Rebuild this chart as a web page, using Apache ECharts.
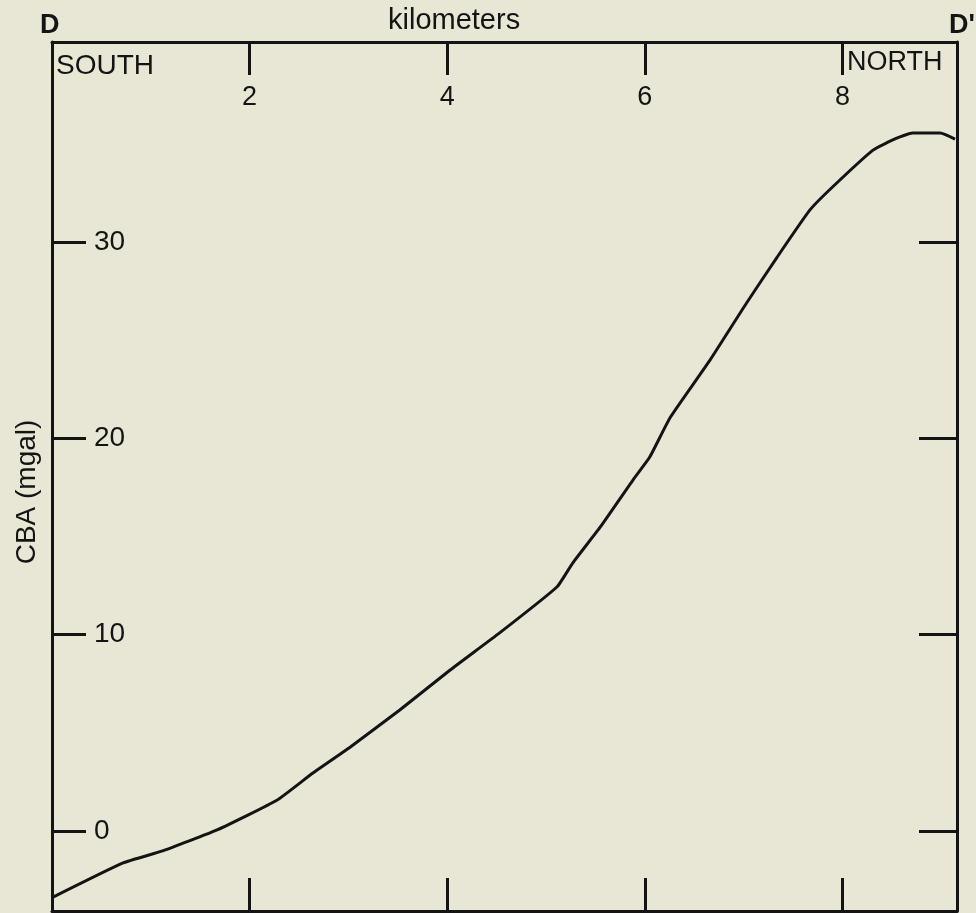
<!DOCTYPE html>
<html>
<head>
<meta charset="utf-8">
<title>CBA profile D-D'</title>
<script src="https://cdn.jsdelivr.net/npm/echarts@6/dist/echarts.min.js"></script>
<style>
  html, body { margin: 0; padding: 0; background: #e8e7d5; }
  #chart { width: 976px; height: 913px; }
</style>
</head>
<body>
<div id="chart"></div>
<script>
// distance along profile (km)
const distKm = [0, 0.72, 1.12, 1.67, 2.28, 2.64, 3.02, 3.52, 4.03, 4.53, 5.11, 5.27, 5.55, 5.88, 6.05, 6.26, 6.66, 7.03, 7.34, 7.67, 7.90, 8.31, 8.55, 8.71, 8.99, 9.14];
// complete Bouguer anomaly (mgal)
const cba = [-3.4, -1.63, -1.02, 0.05, 1.58, 2.95, 4.28, 6.16, 8.20, 10.09, 12.43, 13.65, 15.49, 17.88, 19.05, 21.09, 23.99, 26.90, 29.24, 31.63, 32.81, 34.69, 35.3, 35.56, 35.56, 35.25];
// tick labels
const kmTicks = [2, 4, 6, 8];
const mgalTicks = [0, 10, 20, 30];

const ink = '#141414';
const font = 'Liberation Sans';

const xBase = {
    type: 'value',
    min: 0,
    max: 9.16,
    splitLine: { show: false },
    axisLine: { onZero: false, lineStyle: { color: ink, width: 3 } }
};
const yBase = {
    type: 'value',
    min: -4.08,
    max: 40.2,
    splitLine: { show: false },
    axisLine: { onZero: false, lineStyle: { color: ink, width: 3 } }
};

const chart = echarts.init(document.getElementById('chart'));
chart.setOption({
    backgroundColor: '#e8e7d5',
    animation: false,
    grid: { left: 52, right: 19, top: 42, bottom: 2 },
    xAxis: [
        Object.assign({}, xBase, {
            position: 'top',
            axisTick: { inside: true, length: 33, customValues: kmTicks, lineStyle: { color: ink, width: 3 } },
            axisLabel: { inside: true, margin: 42, customValues: kmTicks, color: ink, fontSize: 27, fontFamily: font }
        }),
        Object.assign({}, xBase, {
            position: 'bottom',
            axisTick: { inside: true, length: 33, customValues: kmTicks, lineStyle: { color: ink, width: 3 } },
            axisLabel: { show: false }
        })
    ],
    yAxis: [
        Object.assign({}, yBase, {
            position: 'left',
            axisTick: { inside: true, length: 34, customValues: mgalTicks, lineStyle: { color: ink, width: 3 } },
            axisLabel: { inside: true, margin: 42, customValues: mgalTicks, color: ink, fontSize: 28, fontFamily: font }
        }),
        Object.assign({}, yBase, {
            position: 'right',
            axisTick: { inside: true, length: 38, customValues: mgalTicks, lineStyle: { color: ink, width: 3 } },
            axisLabel: { show: false }
        })
    ],
    graphic: [
        { type: 'text', left: 40, top: 12, style: { text: 'D', font: 'bold 27px ' + font, fill: ink } },
        { type: 'text', left: 949, top: 12, style: { text: "D'", font: 'bold 27px ' + font, fill: ink } },
        { type: 'text', left: 388, top: 6, style: { text: 'kilometers', font: '29px ' + font, fill: ink } },
        { type: 'text', left: 56, top: 52, style: { text: 'SOUTH', font: '28px ' + font, fill: ink } },
        { type: 'text', left: 847, top: 49, style: { text: 'NORTH', font: '27px ' + font, fill: ink } },
        { type: 'text', x: 27, y: 492, rotation: Math.PI / 2,
          style: { text: 'CBA (mgal)', font: '28px ' + font, fill: ink, align: 'center', verticalAlign: 'middle' } }
    ],
    series: [
        {
            type: 'line',
            xAxisIndex: 0,
            yAxisIndex: 0,
            data: distKm.map((d, i) => [d, cba[i]]),
            smooth: 0.15,
            showSymbol: false,
            lineStyle: { color: ink, width: 3 }
        }
    ]
});
</script>
</body>
</html>
